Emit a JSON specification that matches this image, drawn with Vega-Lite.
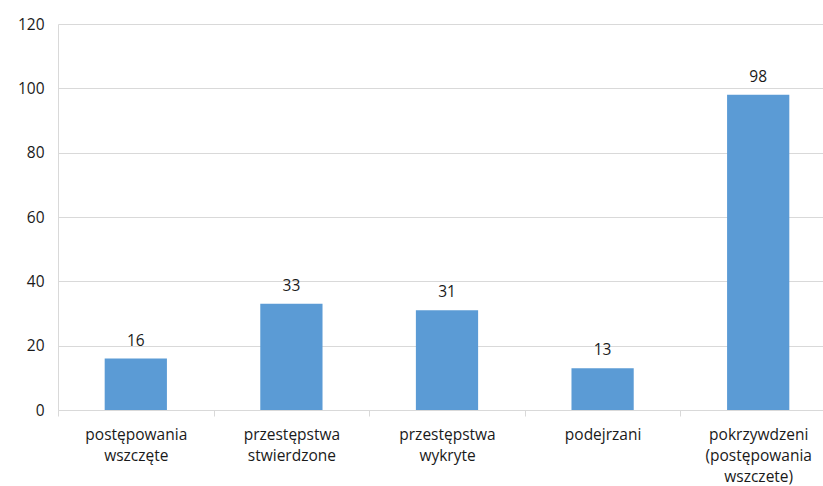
{
  "$schema": "https://vega.github.io/schema/vega-lite/v6.json",
  "autosize": "none",
  "width": 765,
  "height": 386,
  "padding": {"left": 58, "top": 24, "right": 0, "bottom": 76},
  "background": "white",
  "config": {
    "view": {"stroke": null},
    "font": "Open Sans"
  },
  "data": {
    "values": [
      {"kategoria": "postępowania wszczęte", "wartosc": 16},
      {"kategoria": "przestępstwa stwierdzone", "wartosc": 33},
      {"kategoria": "przestępstwa wykryte", "wartosc": 31},
      {"kategoria": "podejrzani", "wartosc": 13},
      {"kategoria": "pokrzywdzeni (postępowania wszczete)", "wartosc": 98}
    ]
  },
  "encoding": {
    "x": {
      "field": "kategoria",
      "type": "nominal",
      "sort": null,
      "scale": {"paddingInner": 0, "paddingOuter": 0, "range": [0, 778]},
      "axis": {
        "title": null,
        "labelAngle": 0,
        "labelExpr": "datum.value ? split(datum.value, ' ') : ''",
        "labelFont": "Open Sans",
        "labelFontSize": 15.5,
        "labelColor": "#1a1a1a",
        "labelLineHeight": 21,
        "labelPadding": 11,
        "labelBaseline": "top",
        "tickBand": "extent",
        "tickSize": 6,
        "tickColor": "#d9d9d9",
        "domainColor": "#d9d9d9"
      }
    },
    "y": {
      "field": "wartosc",
      "type": "quantitative",
      "scale": {"domain": [0, 120]},
      "axis": {
        "title": null,
        "values": [0, 20, 40, 60, 80, 100, 120],
        "labelFont": "Open Sans",
        "labelFontSize": 15.5,
        "labelColor": "#1a1a1a",
        "labelPadding": 14,
        "ticks": false,
        "domain": true,
        "domainColor": "#d9d9d9",
        "gridColor": "#d9d9d9",
        "grid": true
      }
    }
  },
  "layer": [
    {"mark": {"type": "bar", "color": "#5B9BD5", "width": {"band": 0.4}}},
    {
      "mark": {"type": "text", "baseline": "bottom", "dy": -10, "fontSize": 15.5, "color": "#1a1a1a", "font": "Open Sans"},
      "encoding": {"text": {"field": "wartosc", "type": "quantitative"}}
    }
  ]
}
